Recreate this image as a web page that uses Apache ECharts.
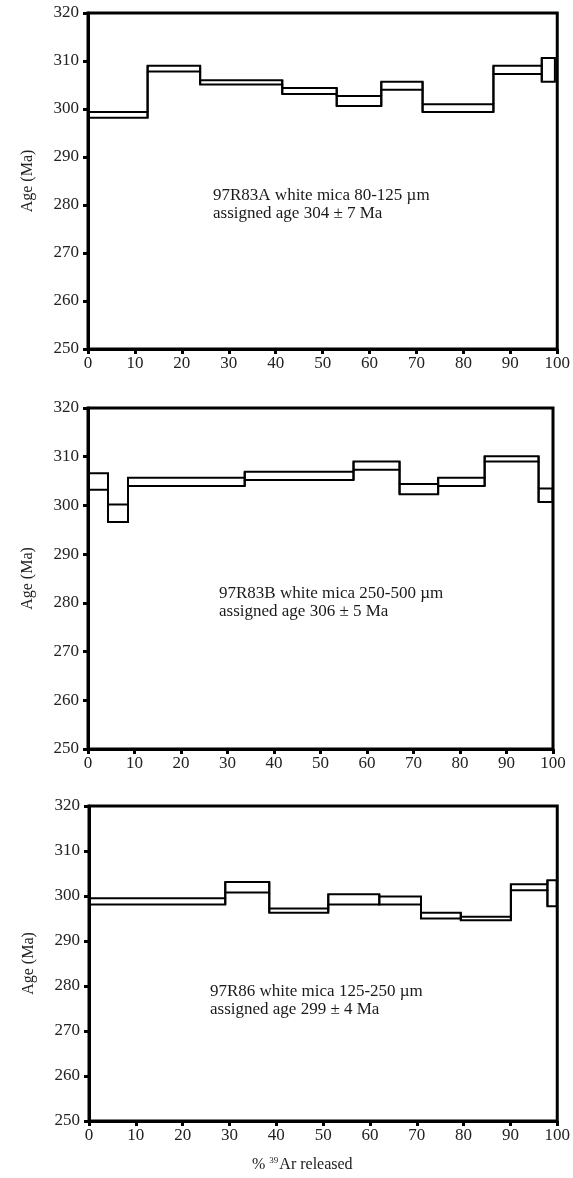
<!DOCTYPE html>
<html>
<head>
<meta charset="utf-8">
<script src="https://cdn.jsdelivr.net/npm/echarts@6/dist/echarts.min.js"></script>
<style>
  html, body { margin: 0; padding: 0; background: #fff; }
  #chart { width: 573px; height: 1178px; }
</style>
</head>
<body>
<div id="chart"></div>
<script>
// ---- Data ----
const xTicks = [0, 10, 20, 30, 40, 50, 60, 70, 80, 90, 100];
const yTicks = [250, 260, 270, 280, 290, 300, 310, 320];

// Panel A: 97R83A
const edgesA = [0, 12.7, 23.9, 41.4, 53.0, 62.5, 71.3, 86.4, 96.7, 99.5];
const lowA   = [298.2, 307.8, 305.1, 303.1, 300.6, 304.0, 299.4, 307.3, 305.7];
const highA  = [299.4, 309.0, 306.0, 304.4, 302.7, 305.7, 301.0, 309.0, 310.6];
const labelA = ['97R83A white mica 80-125 \u00b5m', 'assigned age 304 \u00b1 7 Ma'];

// Panel B: 97R83B
const edgesB = [0, 4.3, 8.6, 33.7, 57.1, 67.0, 75.3, 85.3, 96.9, 99.9];
const lowB   = [303.2, 296.6, 304.0, 305.2, 307.3, 302.3, 304.0, 309.0, 300.7];
const highB  = [306.6, 300.2, 305.7, 306.9, 309.0, 304.4, 305.7, 310.1, 303.5];
const labelB = ['97R83B white mica 250-500 \u00b5m', 'assigned age 306 \u00b1 5 Ma'];

// Panel C: 97R86
const edgesC = [0, 29.1, 38.5, 51.1, 62.0, 70.9, 79.4, 90.1, 97.9, 99.9];
const lowC   = [298.1, 300.8, 296.3, 298.1, 298.1, 295.0, 294.6, 301.3, 297.7];
const highC  = [299.5, 303.1, 297.2, 300.4, 299.9, 296.3, 295.4, 302.6, 303.5];
const labelC = ['97R86 white mica 125-250 \u00b5m', 'assigned age 299 \u00b1 4 Ma'];

const yTitle = 'Age (Ma)';

// ---- Build ----
const FONT = '"Liberation Serif", "DejaVu Serif", serif';
const panels = [
  { edges: edgesA, low: lowA, high: highA, label: labelA, grid: { left: 88, top: 13, width: 471, height: 336 }, text: [213, 187] },
  { edges: edgesB, low: lowB, high: highB, label: labelB, grid: { left: 88, top: 408, width: 465, height: 341 }, text: [219, 585] },
  { edges: edgesC, low: lowC, high: highC, label: labelC, grid: { left: 89, top: 806, width: 473, height: 315 }, text: [210, 983] }
];

function stepData(p) {
  const out = [];
  for (let i = 0; i < p.low.length; i++) {
    const last = i === p.low.length - 1;
    out.push([p.edges[i], p.edges[i + 1], p.low[i], p.high[i],
      last ? p.low[i] : p.low[i + 1], last ? p.high[i] : p.high[i + 1]]);
  }
  return out;
}

function renderItem(params, api) {
  const x0 = api.value(0), x1 = api.value(1);
  const lo = api.value(2), hi = api.value(3);
  const nlo = api.value(4), nhi = api.value(5);
  const a = api.coord([x0, hi]);
  const b = api.coord([x1, lo]);
  const st = { stroke: '#000', fill: null, lineWidth: 2 };
  const c1 = api.coord([x1, hi]), c2 = api.coord([x1, nhi]);
  const d1 = api.coord([x1, lo]), d2 = api.coord([x1, nlo]);
  return {
    type: 'group',
    children: [
      { type: 'rect', shape: { x: a[0], y: a[1], width: b[0] - a[0], height: b[1] - a[1] }, style: st },
      { type: 'line', shape: { x1: c1[0], y1: c1[1], x2: c2[0], y2: c2[1] }, style: { stroke: '#000', lineWidth: 2 } },
      { type: 'line', shape: { x1: d1[0], y1: d1[1], x2: d2[0], y2: d2[1] }, style: { stroke: '#000', lineWidth: 2 } }
    ]
  };
}

const option = {
  animation: false,
  backgroundColor: '#fff',
  grid: panels.map(p => Object.assign({ show: true, borderColor: '#000', borderWidth: 3, backgroundColor: 'transparent' }, p.grid)),
  xAxis: panels.map((p, i) => ({
    type: 'value', gridIndex: i, min: xTicks[0], max: xTicks[xTicks.length - 1], interval: 10,
    splitLine: { show: false },
    axisLine: { show: true, lineStyle: { color: '#000', width: 3 } },
    axisTick: { show: true, length: 5, lineStyle: { color: '#000', width: 3 } },
    axisLabel: { color: '#222', fontFamily: FONT, fontSize: 17, margin: 6 }
  })),
  yAxis: panels.map((p, i) => ({
    type: 'value', gridIndex: i, min: yTicks[0], max: yTicks[yTicks.length - 1], interval: 10,
    name: yTitle, nameLocation: 'middle', nameGap: 52,
    nameTextStyle: { color: '#222', fontFamily: FONT, fontSize: 16 },
    splitLine: { show: false },
    axisLine: { show: true, lineStyle: { color: '#000', width: 3 } },
    axisTick: { show: true, length: 5, lineStyle: { color: '#000', width: 3 } },
    axisLabel: { color: '#222', fontFamily: FONT, fontSize: 17, margin: 9 }
  })),
  series: panels.map((p, i) => ({
    type: 'custom', xAxisIndex: i, yAxisIndex: i,
    renderItem: renderItem,
    encode: { x: [0, 1], y: [2, 3] },
    data: stepData(p),
    silent: true
  })),
  graphic: panels.map(p => ({
    type: 'text', left: p.text[0], top: p.text[1],
    style: { text: p.label.join('\n'), fill: '#1a1a1a', font: '17px ' + FONT, lineHeight: 18 }
  })).concat([{
    type: 'text', left: 252, top: 1156,
    style: {
      text: '{a|% }{s|39}{a|Ar released}',
      rich: {
        a: { fill: '#222', fontFamily: FONT, fontSize: 16 },
        s: { fill: '#222', fontFamily: FONT, fontSize: 9, verticalAlign: 'top', padding: [0, 1, 8, 0] }
      }
    }
  }])
};

const chart = echarts.init(document.getElementById('chart'), null, { renderer: 'canvas' });
chart.setOption(option);
</script>
</body>
</html>
